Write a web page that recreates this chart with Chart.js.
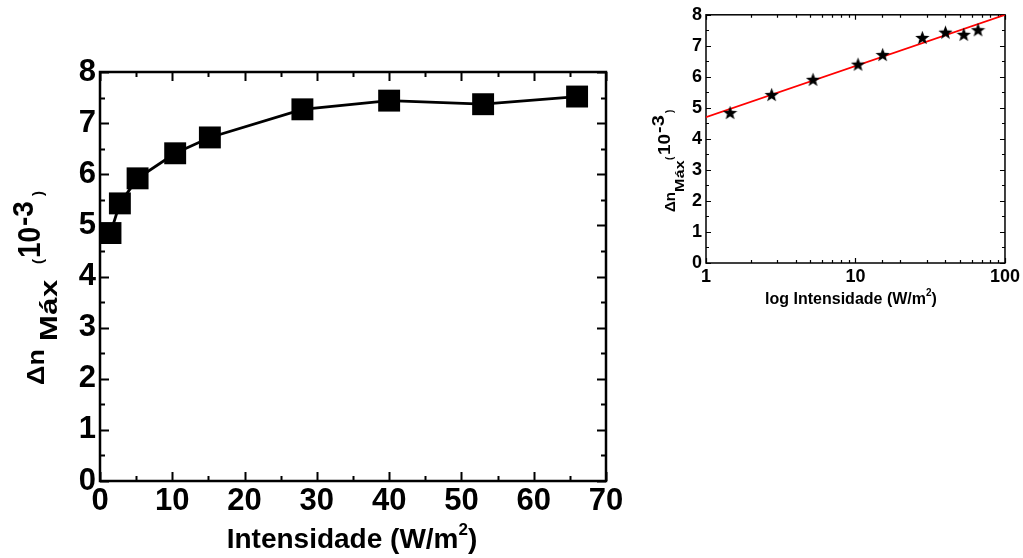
<!DOCTYPE html>
<html>
<head>
<meta charset="utf-8">
<script src="https://cdn.jsdelivr.net/npm/chart.js@4.4.1/dist/chart.umd.min.js"></script>
<style>
  html, body { margin: 0; padding: 0; background: #fff; }
  body { width: 1023px; height: 558px; position: relative; overflow: hidden; }
  canvas { position: absolute; }
  #main { left: 0; top: 0; }
  #inset { left: 640px; top: 0; }
</style>
</head>
<body>
<canvas id="main" width="650" height="558"></canvas>
<canvas id="inset" width="383" height="320"></canvas>
<script>
// ---- data ----
const intensity = [1.45, 2.75, 5.2, 10.4, 15.2, 28.0, 40.0, 53.0, 66.0];   // W/m²
const deltaN    = [4.85, 5.43, 5.92, 6.41, 6.72, 7.27, 7.44, 7.37, 7.52];   // 10^-3
const fitX = [1, 100];
const fitY = [4.7, 8.0];
const mainXTicks = [0, 10, 20, 30, 40, 50, 60, 70];
const mainYTicks = [0, 1, 2, 3, 4, 5, 6, 7, 8];
const insetXLabels = [1, 10, 100];

const FONT = '"Liberation Sans", Arial, Helvetica, sans-serif';
Chart.defaults.color = '#000';
Chart.defaults.font.family = FONT;
Chart.defaults.font.weight = 'bold';

// rich text (sub/superscripts) drawn on the canvas
function richWidth(ctx, segs) {
  let w = 0;
  segs.forEach(s => {
    ctx.font = `bold ${s.size}px ${FONT}`;
    ctx.letterSpacing = (s.ls || 0) + 'px';
    w += ctx.measureText(s.t).width;
  });
  return w;
}
function drawRich(ctx, segs, x, y, rotate, center) {
  ctx.save();
  ctx.translate(x, y);
  if (rotate) ctx.rotate(-Math.PI / 2);
  ctx.fillStyle = '#000';
  ctx.textAlign = 'left';
  ctx.textBaseline = 'alphabetic';
  let u = center ? -richWidth(ctx, segs) / 2 : 0;
  segs.forEach(s => {
    ctx.font = `bold ${s.size}px ${FONT}`;
    ctx.letterSpacing = (s.ls || 0) + 'px';
    const pos = s.u !== undefined ? s.u : u;
    ctx.save();
    ctx.translate(pos, s.dy || 0);
    ctx.scale(1, s.sy || 1);
    ctx.fillText(s.t, 0, 0);
    ctx.restore();
    u = pos + ctx.measureText(s.t).width;
  });
  ctx.restore();
}

// frame + inward ticks on all four sides
const frameTicks = {
  id: 'frameTicks',
  beforeDatasetsDraw(chart, args, o) {
    const { ctx, chartArea: a, scales: { x, y } } = chart;
    ctx.save();
    ctx.strokeStyle = '#000';
    ctx.lineWidth = o.tw;
    ctx.beginPath();
    o.xTicks(x).forEach(([v, major]) => {
      const p = Math.round(x.getPixelForValue(v)) + 0.5, L = major ? o.major : o.minor;
      ctx.moveTo(p, a.bottom); ctx.lineTo(p, a.bottom - L);
      ctx.moveTo(p, a.top); ctx.lineTo(p, a.top + L);
    });
    o.yTicks(y).forEach(([v, major]) => {
      const p = Math.round(y.getPixelForValue(v)) + 0.5, L = major ? o.major : o.minor;
      ctx.moveTo(a.left, p); ctx.lineTo(a.left + L, p);
      ctx.moveTo(a.right, p); ctx.lineTo(a.right - L, p);
    });
    ctx.stroke();
    ctx.lineWidth = o.lw;
    ctx.strokeRect(a.left, a.top, a.right - a.left, a.bottom - a.top);
    ctx.restore();
  },
  afterDraw(chart, args, o) {
    if (o.titles) o.titles(chart.ctx, chart);
  }
};

function withHalves(scale) {
  const vals = scale.ticks.map(t => t.value);
  const out = vals.map(v => [v, true]);
  for (let i = 0; i < vals.length - 1; i++) out.push([(vals[i] + vals[i + 1]) / 2, false]);
  return out;
}

// ---------- main chart ----------
new Chart(document.getElementById('main'), {
  type: 'line',
  data: {
    datasets: [{
      data: intensity.map((v, i) => ({ x: v, y: deltaN[i] })),
      borderColor: '#000',
      backgroundColor: '#000',
      borderWidth: 2.8,
      pointStyle: 'rect',
      pointRadius: 15.5,
      pointBorderWidth: 0,
      tension: 0,
      clip: false
    }]
  },
  options: {
    responsive: false,
    animation: false,
    events: [],
    layout: { padding: { left: 0, top: 72, right: 44, bottom: 0 } },
    plugins: {
      legend: { display: false },
      tooltip: { enabled: false },
      frameTicks: {
        lw: 2.5, tw: 2, major: 9, minor: 5,
        xTicks: withHalves, yTicks: withHalves,
        titles(ctx) {
          drawRich(ctx, [
            { t: 'Intensidade (W/m', size: 28 },
            { t: '2', size: 17, dy: -13 },
            { t: ')', size: 28 }
          ], 352, 548, false, true);
          drawRich(ctx, [
            { t: 'Δn', size: 27, sy: 0.9, u: 0 },
            { t: 'Máx', size: 31, dy: 13, ls: 0.5, sy: 0.75, u: 44 },
            { t: '(', size: 15, dy: -1, u: 121 },
            { t: '10', size: 28, dy: -4, sy: 1.1, u: 127 },
            { t: '-3', size: 28, dy: -11, sy: 1.05, u: 159 },
            { t: ')', size: 15, dy: -1, u: 189 }
          ], 44, 385, true, false);
        }
      }
    },
    scales: {
      x: {
        type: 'linear', min: 0, max: 70,
        afterBuildTicks: s => { s.ticks = mainXTicks.map(v => ({ value: v })); },
        afterFit: s => { s.height = 77; },
        grid: { display: false, drawTicks: false },
        border: { display: false },
        ticks: { font: { size: 31, weight: 'bold' }, padding: 2, autoSkip: false, maxRotation: 0 }
      },
      y: {
        type: 'linear', min: 0, max: 8,
        afterBuildTicks: s => { s.ticks = mainYTicks.map(v => ({ value: v })); },
        afterFit: s => { s.width = 100; },
        grid: { display: false, drawTicks: false },
        border: { display: false },
        ticks: { font: { size: 31, weight: 'bold' }, padding: 4, autoSkip: false }
      }
    }
  },
  plugins: [frameTicks]
});

// ---------- inset (log scale) ----------
function starImage(size) {
  const c = document.createElement('canvas');
  c.width = size; c.height = size;
  const g = c.getContext('2d');
  const cx = size / 2, cy = size / 2 + 0.7, R = size / 2, r = R * 0.42;
  g.beginPath();
  for (let i = 0; i < 10; i++) {
    const ang = -Math.PI / 2 + i * Math.PI / 5;
    const rad = i % 2 ? r : R;
    g.lineTo(cx + rad * Math.cos(ang), cy + rad * Math.sin(ang));
  }
  g.closePath();
  g.fillStyle = '#000';
  g.fill();
  return c;
}
const star = starImage(15);

new Chart(document.getElementById('inset'), {
  type: 'scatter',
  data: {
    datasets: [{
      type: 'line',
      data: fitX.map((v, i) => ({ x: v, y: fitY[i] })),
      borderColor: '#ff0000',
      borderWidth: 1.6,
      pointRadius: 0,
      order: 2
    }, {
      data: intensity.map((v, i) => ({ x: v, y: deltaN[i] })),
      pointStyle: star,
      pointRadius: 7,
      showLine: false,
      order: 1,
      clip: false
    }]
  },
  options: {
    responsive: false,
    animation: false,
    events: [],
    layout: { padding: { left: 0, top: 14, right: 17, bottom: 0 } },
    plugins: {
      legend: { display: false },
      tooltip: { enabled: false },
      frameTicks: {
        lw: 1.5, tw: 1.2, major: 5, minor: 3,
        xTicks: s => s.ticks.map(t => [t.value, insetXLabels.includes(t.value)]),
        yTicks: withHalves,
        titles(ctx) {
          drawRich(ctx, [
            { t: 'log Intensidade (W/m', size: 16 },
            { t: '2', size: 10, dy: -8 },
            { t: ')', size: 16 }
          ], 211, 304, false, true);
          drawRich(ctx, [
            { t: 'Δn', size: 15, u: 0 },
            { t: 'Máx', size: 16, dy: 9, ls: 0.3, sy: 0.85, u: 20 },
            { t: '(', size: 10, dy: -2, u: 52 },
            { t: '10', size: 19, dy: -5, sy: 0.85, u: 57 },
            { t: '-3', size: 20, dy: -11, sy: 0.85, u: 79 },
            { t: ')', size: 10, dy: -2, u: 99 }
          ], 35, 212, true, false);
        }
      }
    },
    scales: {
      x: {
        type: 'logarithmic', min: 1, max: 100,
        afterFit: s => { s.height = 57; },
        grid: { display: false, drawTicks: false },
        border: { display: false },
        ticks: {
          font: { size: 18, weight: 'bold' }, padding: 3, autoSkip: false, maxRotation: 0,
          callback: v => insetXLabels.includes(v) ? String(v) : ''
        }
      },
      y: {
        type: 'linear', min: 0, max: 8,
        afterBuildTicks: s => { s.ticks = mainYTicks.map(v => ({ value: v })); },
        afterFit: s => { s.width = 66; },
        grid: { display: false, drawTicks: false },
        border: { display: false },
        ticks: { font: { size: 18, weight: 'bold' }, padding: 4, autoSkip: false }
      }
    }
  },
  plugins: [frameTicks]
});
</script>
</body>
</html>
